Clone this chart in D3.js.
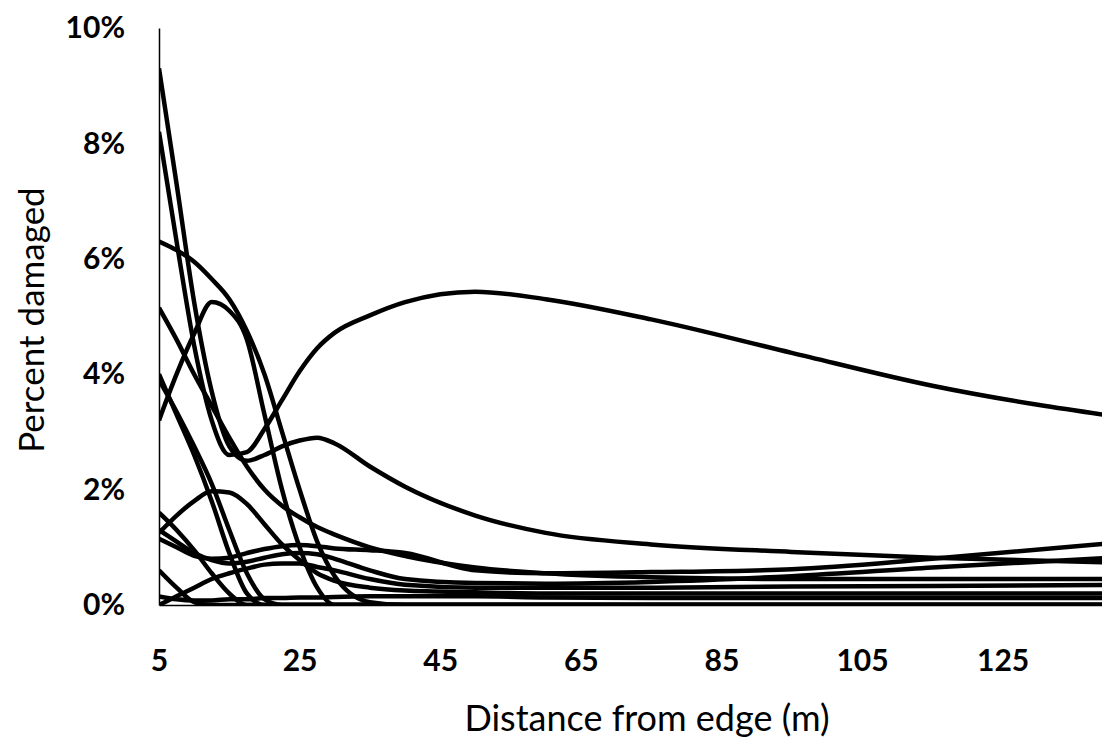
<!DOCTYPE html>
<html>
<head>
<meta charset="utf-8">
<script src="https://cdn.jsdelivr.net/npm/d3@7"></script>
<style>
  html, body { margin: 0; padding: 0; background: #fff; }
  svg { display: block; }
  .tick text { font-family: Lato, "Open Sans", sans-serif; font-weight: 700; fill: #000; }
  .title { font-family: Lato, "Open Sans", sans-serif; font-weight: 400; fill: #000; }
</style>
</head>
<body>
<svg id="chart" width="1102" height="742"></svg>
<script>
// Distance from the edge (m) at which each transect value is given
const distance = [5, 7.5, 10, 12.5, 15, 17.5, 20, 22.5, 25, 27.5, 30, 35, 40, 50, 60, 75, 95, 115, 145];

// Percent damaged along each transect
const t01 = [9.3, 7.3, 5.25, 3.7, 2.75, 2.5, 2.6, 2.75, 2.85, 2.9, 2.8, 2.4, 2.05, 1.55, 1.25, 1.05, 0.92, 0.82, 0.72];
const t02 = [8.2, 6.3, 4.5, 3.2, 2.6, 2.65, 3.05, 3.55, 4.05, 4.45, 4.72, 5.02, 5.25, 5.43, 5.3, 4.95, 4.37, 3.8, 3.2];
const t03 = [6.3, 6.15, 5.95, 5.65, 5.3, 4.75, 4.0, 3.0, 2.0, 1.1, 0.5, 0.05, 0, 0, 0, 0, 0, 0, 0];
const t04 = [5.15, 4.6, 4.0, 3.45, 2.9, 2.4, 2.0, 1.72, 1.52, 1.35, 1.22, 1.0, 0.85, 0.65, 0.55, 0.48, 0.45, 0.45, 0.45];
const t05 = [4.0, 3.3, 2.6, 1.8, 0.9, 0.2, 0, 0, 0, 0, 0, 0, 0, 0, 0, 0, 0, 0, 0];
const t06 = [3.9, 3.35, 2.75, 2.1, 1.3, 0.55, 0.1, 0, 0, 0, 0, 0, 0, 0, 0, 0, 0, 0, 0];
const t07 = [3.2, 4.0, 4.7, 5.25, 5.1, 4.6, 3.3, 2.0, 1.0, 0.3, 0, 0, 0, 0, 0, 0, 0, 0, 0];
const t08 = [1.25, 1.55, 1.8, 1.97, 1.95, 1.75, 1.4, 1.05, 0.78, 0.55, 0.42, 0.3, 0.25, 0.22, 0.2, 0.2, 0.2, 0.2, 0.2];
const t09 = [1.6, 1.3, 0.95, 0.55, 0.2, 0, 0, 0, 0, 0, 0, 0, 0, 0, 0, 0, 0, 0, 0];
const t10 = [1.15, 1.0, 0.85, 0.8, 0.82, 0.9, 0.97, 1.02, 1.04, 1.02, 0.98, 0.95, 0.9, 0.6, 0.55, 0.57, 0.62, 0.8, 1.12];
const t11 = [1.3, 1.1, 0.9, 0.78, 0.72, 0.75, 0.82, 0.88, 0.9, 0.88, 0.8, 0.6, 0.45, 0.38, 0.37, 0.4, 0.5, 0.65, 0.85];
const t12 = [0, 0.15, 0.3, 0.45, 0.55, 0.63, 0.7, 0.72, 0.72, 0.66, 0.6, 0.45, 0.35, 0.3, 0.3, 0.3, 0.32, 0.33, 0.35];
const t13 = [0.6, 0.3, 0.05, 0, 0, 0, 0, 0, 0, 0, 0, 0, 0, 0, 0, 0, 0, 0, 0];
const t14 = [0.15, 0.1, 0.08, 0.08, 0.1, 0.1, 0.12, 0.12, 0.13, 0.13, 0.14, 0.15, 0.15, 0.15, 0.13, 0.12, 0.12, 0.12, 0.12];
const transects = [t01, t02, t03, t04, t05, t06, t07, t08, t09, t10, t11, t12, t13, t14];

const xTicks = [5, 25, 45, 65, 85, 105, 125];
const yTicks = [0, 2, 4, 6, 8, 10];

const svg = d3.select("#chart");
const x = d3.scaleLinear().domain([5, 145]).range([159, 159 + 140 * 7.03]);
const y = d3.scaleLinear().domain([0, 10]).range([605, 28]);

svg.append("defs").append("clipPath").attr("id", "plot")
  .append("rect").attr("x", 159).attr("y", 0).attr("width", 1102 - 159).attr("height", 605);

const line = d3.line()
  .x((d, i) => x(distance[i]))
  .y(d => y(d))
  .curve(d3.curveMonotoneX);

svg.append("g").attr("clip-path", "url(#plot)")
  .selectAll("path").data(transects).join("path")
  .attr("d", line)
  .attr("fill", "none")
  .attr("stroke", "#000")
  .attr("stroke-width", 4.5)
  .attr("stroke-linejoin", "round");

// Axes
const yAxis = svg.append("g").attr("transform", `translate(${x(5)},0)`)
  .call(d3.axisLeft(y).tickValues(yTicks).tickSize(0).tickPadding(34).tickFormat(d => d + "%"));
const xAxis = svg.append("g").attr("transform", `translate(0,${y(0)})`)
  .call(d3.axisBottom(x).tickValues(xTicks).tickSize(0).tickPadding(45).tickFormat(d3.format("d")));

[yAxis, xAxis].forEach(g => {
  g.select(".domain").attr("stroke", "#000").attr("stroke-width", 1.5);
  g.selectAll(".tick text").style("font-size", "30px");
});

svg.append("text").attr("class", "title")
  .attr("x", 647).attr("y", 731)
  .attr("text-anchor", "middle")
  .style("font-size", "36px")
  .text("Distance from edge (m)");

svg.append("text").attr("class", "title")
  .attr("transform", "translate(44,320) rotate(-90)")
  .attr("text-anchor", "middle")
  .style("font-size", "35px")
  .text("Percent damaged");
</script>
</body>
</html>
